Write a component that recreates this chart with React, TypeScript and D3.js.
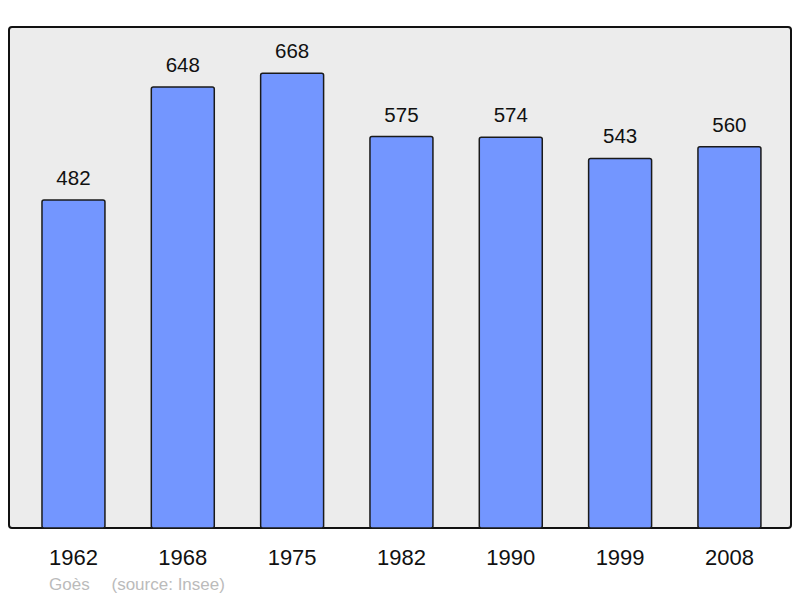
import * as d3 from 'd3'
import { useRef, useEffect } from 'react'

const years: string[] = ['1962', '1968', '1975', '1982', '1990', '1999', '2008']
const population: number[] = [482, 648, 668, 575, 574, 543, 560]
const commune = 'Goès'
const source = '(source: Insee)'

const svgWidth = 800
const svgHeight = 598
const panel = { left: 9, top: 27, right: 791, bottom: 528 }
const font = "'Liberation Sans', Arial, sans-serif"

const App: React.FC = () => {
  const svgRef = useRef<SVGSVGElement>(null)

  useEffect((): void => {
    const SVG = d3.select(svgRef.current)
    SVG.selectAll('*').remove()

    SVG.append('rect')
      .attr('x', panel.left)
      .attr('y', panel.top)
      .attr('width', panel.right - panel.left)
      .attr('height', panel.bottom - panel.top)
      .attr('rx', 3)
      .attr('fill', '#ececec')
      .attr('stroke', '#111')
      .attr('stroke-width', 2)

    const xScale = d3.scaleBand()
      .domain(years)
      .range([18.8, 784.1])
      .paddingInner(0.424)
      .paddingOuter(0.212)
    const yScale = d3.scaleLinear()
      .domain([0, 736])
      .range([panel.bottom, panel.top])

    SVG.selectAll('rect.bar')
      .data(population)
      .enter()
      .append('rect')
      .attr('class', 'bar')
      .attr('x', (d: number, i: number) => xScale(years[i])!)
      .attr('y', (d: number) => yScale(d))
      .attr('width', xScale.bandwidth())
      .attr('height', (d: number) => yScale(0) - yScale(d))
      .attr('rx', 2)
      .attr('fill', '#7396ff')
      .attr('stroke', '#1a1a1a')
      .attr('stroke-width', 1.5)

    SVG.selectAll('text.value')
      .data(population)
      .enter()
      .append('text')
      .attr('class', 'value')
      .attr('x', (d: number, i: number) => xScale(years[i])! + xScale.bandwidth() / 2)
      .attr('y', (d: number) => yScale(d) - 15)
      .attr('text-anchor', 'middle')
      .attr('font-family', font)
      .attr('font-size', 20.5)
      .attr('fill', '#111')
      .text((d: number) => d)

    SVG.selectAll('text.year')
      .data(years)
      .enter()
      .append('text')
      .attr('class', 'year')
      .attr('x', (d: string) => xScale(d)! + xScale.bandwidth() / 2)
      .attr('y', 565)
      .attr('text-anchor', 'middle')
      .attr('font-family', font)
      .attr('font-size', 22)
      .attr('fill', '#111')
      .text((d: string) => d)

    SVG.append('text')
      .attr('x', 49)
      .attr('y', 590)
      .attr('font-family', font)
      .attr('font-size', 17)
      .attr('fill', '#bbbbbb')
      .text(commune)

    SVG.append('text')
      .attr('x', 111.5)
      .attr('y', 590)
      .attr('font-family', font)
      .attr('font-size', 17)
      .attr('fill', '#bbbbbb')
      .text(source)
  }, [])

  return (
    <svg
      ref={svgRef}
      width={svgWidth}
      height={svgHeight}
      style={{ position: 'absolute', left: 0, top: 0 }}
    ></svg>
  )
}

export default App
